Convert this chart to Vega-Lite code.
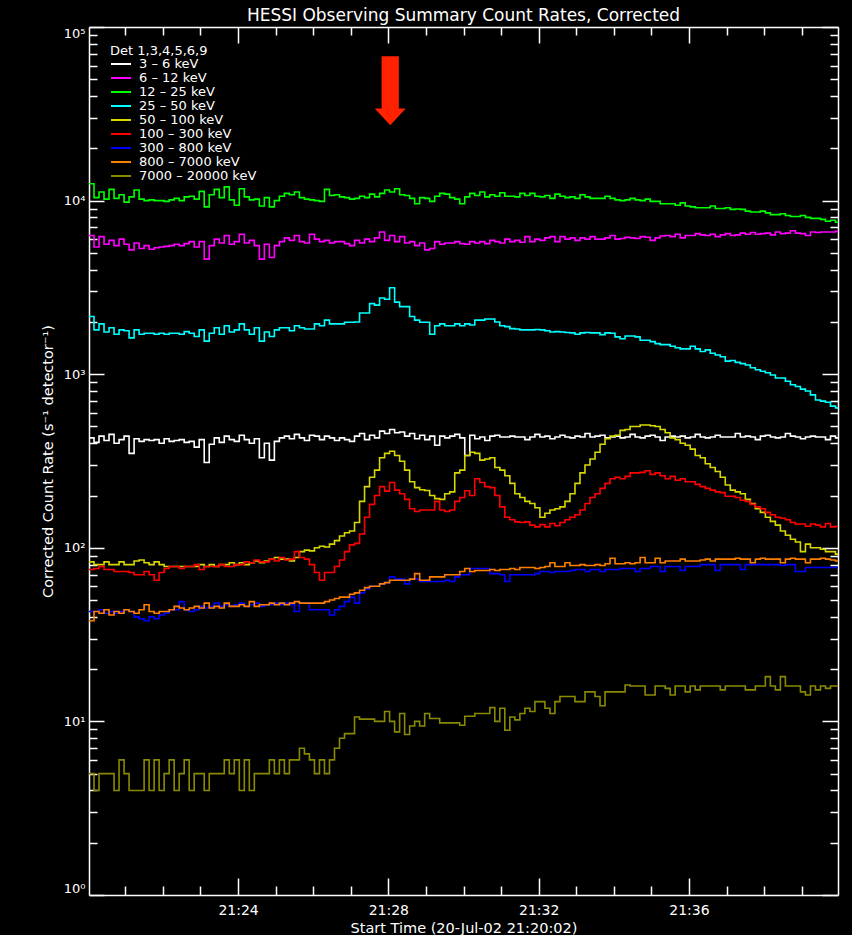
{
  "$schema": "https://vega.github.io/schema/vega-lite/v6.json",
  "width": 749,
  "height": 868,
  "autosize": {"type": "none"},
  "padding": {"left": 89, "top": 27, "right": 14, "bottom": 40},
  "background": "#000000",
  "title": {
    "text": "HESSI Observing Summary Count Rates, Corrected",
    "color": "#FFFFFF",
    "font": "DejaVu Sans",
    "fontSize": 17,
    "fontWeight": "normal",
    "anchor": "middle",
    "frame": "group",
    "baseline": "alphabetic",
    "offset": -12
  },
  "config": {
    "view": {"stroke": null},
    "axis": {
      "grid": false,
      "domainColor": "#FFFFFF",
      "domainWidth": 1.5,
      "tickColor": "#FFFFFF",
      "tickWidth": 1.5,
      "labelColor": "#FFFFFF",
      "titleColor": "#FFFFFF",
      "labelFont": "DejaVu Sans",
      "titleFont": "DejaVu Sans",
      "labelFontSize": 13,
      "titleFontSize": 14.5,
      "titleFontWeight": "normal"
    }
  },
  "datasets": {
    "bands": [
      {"k": "a", "band": "3 – 6 keV"},
      {"k": "b", "band": "6 – 12 keV"},
      {"k": "c", "band": "12 – 25 keV"},
      {"k": "d", "band": "25 – 50 keV"},
      {"k": "e", "band": "50 – 100 keV"},
      {"k": "f", "band": "100 – 300 keV"},
      {"k": "g", "band": "300 – 800 keV"},
      {"k": "h", "band": "800 – 7000 keV"},
      {"k": "i", "band": "7000 – 20000 keV"}
    ],
    "marker": [{"s": 483, "v": 43000}],
    "rates": [
      {"s":2,"a":430,"b":6300,"c":12500,"d":2150,"e":83,"f":75,"g":43,"h":38,"i":5},
      {"s":10,"a":405,"b":5400,"c":10400,"d":1800,"e":80,"f":76,"g":43,"h":43,"i":4},
      {"s":18,"a":440,"b":6200,"c":11200,"d":1950,"e":80,"f":78,"g":44,"h":42,"i":5},
      {"s":26,"a":415,"b":5600,"c":10200,"d":1750,"e":83,"f":75,"g":42,"h":44,"i":5},
      {"s":34,"a":450,"b":5900,"c":11600,"d":1850,"e":80,"f":75,"g":43,"h":41,"i":5},
      {"s":42,"a":400,"b":5500,"c":10300,"d":1700,"e":80,"f":73,"g":42,"h":43,"i":4},
      {"s":50,"a":420,"b":6000,"c":10800,"d":1800,"e":83,"f":73,"g":43,"h":42,"i":6},
      {"s":58,"a":440,"b":5600,"c":9800,"d":1780,"e":80,"f":73,"g":44,"h":44,"i":5},
      {"s":66,"a":350,"b":5200,"c":10500,"d":1620,"e":80,"f":72,"g":43,"h":43,"i":4},
      {"s":74,"a":425,"b":5700,"c":11500,"d":1800,"e":84,"f":70,"g":40,"h":42,"i":4},
      {"s":82,"a":410,"b":5300,"c":10200,"d":1700,"e":85,"f":70,"g":39,"h":44,"i":4},
      {"s":90,"a":420,"b":5500,"c":10000,"d":1720,"e":82,"f":73,"g":38,"h":47,"i":6},
      {"s":98,"a":415,"b":5250,"c":10100,"d":1720,"e":80,"f":70,"g":40,"h":43,"i":4},
      {"s":106,"a":420,"b":5350,"c":10000,"d":1700,"e":83,"f":65,"g":39,"h":42,"i":6},
      {"s":114,"a":400,"b":5400,"c":10000,"d":1720,"e":80,"f":72,"g":41,"h":43,"i":4},
      {"s":122,"a":425,"b":5450,"c":9900,"d":1700,"e":78,"f":76,"g":42,"h":43,"i":5},
      {"s":130,"a":410,"b":5500,"c":10100,"d":1720,"e":78,"f":78,"g":44,"h":44,"i":6},
      {"s":138,"a":415,"b":5600,"c":10300,"d":1720,"e":78,"f":78,"g":44,"h":46,"i":4},
      {"s":146,"a":420,"b":5500,"c":10000,"d":1700,"e":78,"f":76,"g":49,"h":45,"i":5},
      {"s":154,"a":405,"b":5650,"c":10500,"d":1760,"e":78,"f":78,"g":44,"h":44,"i":6},
      {"s":162,"a":410,"b":5800,"c":10600,"d":1720,"e":78,"f":78,"g":43,"h":45,"i":4},
      {"s":170,"a":380,"b":5400,"c":10200,"d":1650,"e":78,"f":80,"g":44,"h":46,"i":5},
      {"s":178,"a":420,"b":5800,"c":11300,"d":1800,"e":80,"f":75,"g":46,"h":45,"i":5},
      {"s":186,"a":310,"b":4600,"c":9200,"d":1550,"e":78,"f":78,"g":45,"h":48,"i":4},
      {"s":194,"a":395,"b":5500,"c":10800,"d":1720,"e":80,"f":78,"g":46,"h":45,"i":5},
      {"s":202,"a":430,"b":6000,"c":11600,"d":1850,"e":78,"f":78,"g":48,"h":46,"i":5},
      {"s":210,"a":405,"b":5700,"c":10400,"d":1700,"e":80,"f":80,"g":46,"h":45,"i":5},
      {"s":218,"a":440,"b":6300,"c":12000,"d":1900,"e":80,"f":78,"g":47,"h":48,"i":6},
      {"s":226,"a":420,"b":5600,"c":10100,"d":1750,"e":82,"f":78,"g":46,"h":46,"i":5},
      {"s":234,"a":410,"b":5800,"c":9400,"d":1800,"e":80,"f":80,"g":47,"h":46,"i":6},
      {"s":242,"a":445,"b":6400,"c":11700,"d":1950,"e":82,"f":80,"g":48,"h":47,"i":4},
      {"s":250,"a":420,"b":5700,"c":10500,"d":1800,"e":80,"f":83,"g":46,"h":46,"i":6},
      {"s":258,"a":400,"b":5900,"c":10100,"d":1700,"e":82,"f":82,"g":47,"h":49,"i":4},
      {"s":266,"a":425,"b":5500,"c":10200,"d":1850,"e":84,"f":85,"g":48,"h":46,"i":5},
      {"s":274,"a":330,"b":4600,"c":9300,"d":1550,"e":82,"f":83,"g":46,"h":47,"i":5},
      {"s":282,"a":400,"b":5600,"c":10400,"d":1750,"e":84,"f":83,"g":47,"h":47,"i":5},
      {"s":290,"a":320,"b":4700,"c":9200,"d":1650,"e":86,"f":86,"g":47,"h":48,"i":6},
      {"s":298,"a":410,"b":5500,"c":10000,"d":1800,"e":88,"f":84,"g":48,"h":47,"i":5},
      {"s":306,"a":430,"b":5800,"c":10600,"d":1850,"e":86,"f":88,"g":47,"h":48,"i":6},
      {"s":314,"a":440,"b":6100,"c":11000,"d":1850,"e":86,"f":85,"g":48,"h":47,"i":5},
      {"s":322,"a":425,"b":5900,"c":10800,"d":1780,"e":84,"f":86,"g":47,"h":48,"i":6},
      {"s":330,"a":450,"b":6300,"c":11200,"d":1900,"e":88,"f":95,"g":43,"h":49,"i":6},
      {"s":338,"a":430,"b":5800,"c":10400,"d":1850,"e":95,"f":88,"g":48,"h":48,"i":7},
      {"s":346,"a":415,"b":5700,"c":10200,"d":1820,"e":97,"f":86,"g":48,"h":48,"i":6.5},
      {"s":354,"a":445,"b":6400,"c":10100,"d":1820,"e":96,"f":80,"g":44,"h":48,"i":6},
      {"s":362,"a":440,"b":6000,"c":10000,"d":1950,"e":100,"f":72,"g":44,"h":48,"i":5},
      {"s":370,"a":420,"b":5800,"c":9900,"d":1900,"e":102,"f":65,"g":44,"h":48,"i":6},
      {"s":378,"a":440,"b":5900,"c":11600,"d":2050,"e":101,"f":72,"g":44,"h":49,"i":5},
      {"s":386,"a":430,"b":5700,"c":10700,"d":1950,"e":105,"f":72,"g":41,"h":50,"i":6},
      {"s":394,"a":415,"b":5800,"c":10800,"d":1950,"e":110,"f":78,"g":44,"h":51,"i":7},
      {"s":402,"a":430,"b":5800,"c":10500,"d":1950,"e":117,"f":85,"g":46,"h":52,"i":8},
      {"s":410,"a":420,"b":5650,"c":10400,"d":1990,"e":122,"f":95,"g":49,"h":52,"i":8.5},
      {"s":418,"a":410,"b":5500,"c":10200,"d":1990,"e":125,"f":104,"g":52,"h":54,"i":8.5},
      {"s":426,"a":440,"b":5900,"c":10300,"d":2000,"e":140,"f":106,"g":48,"h":55,"i":10.6},
      {"s":434,"a":455,"b":5700,"c":10600,"d":2250,"e":185,"f":120,"g":55,"h":57,"i":10.3},
      {"s":442,"a":420,"b":6000,"c":10400,"d":2250,"e":225,"f":150,"g":58,"h":59,"i":10.3},
      {"s":450,"a":445,"b":5800,"c":10900,"d":2550,"e":255,"f":178,"g":60,"h":60,"i":10.3},
      {"s":458,"a":430,"b":6100,"c":10500,"d":2500,"e":280,"f":200,"g":60,"h":60,"i":10},
      {"s":466,"a":470,"b":6600,"c":11000,"d":2750,"e":330,"f":225,"g":62,"h":62,"i":10},
      {"s":474,"a":455,"b":5900,"c":11500,"d":2700,"e":350,"f":212,"g":63,"h":63,"i":11.4},
      {"s":482,"a":480,"b":6300,"c":11200,"d":3150,"e":360,"f":238,"g":68,"h":65,"i":10},
      {"s":490,"a":460,"b":5800,"c":11700,"d":2600,"e":340,"f":215,"g":66,"h":65,"i":8.7},
      {"s":498,"a":465,"b":6200,"c":10800,"d":2450,"e":315,"f":205,"g":66,"h":65,"i":11.1},
      {"s":506,"a":440,"b":5700,"c":10700,"d":2450,"e":280,"f":190,"g":62,"h":65,"i":8.4},
      {"s":514,"a":455,"b":5800,"c":10300,"d":2150,"e":240,"f":168,"g":66,"h":66,"i":9.4},
      {"s":522,"a":425,"b":5500,"c":9600,"d":2050,"e":222,"f":162,"g":66,"h":71,"i":10},
      {"s":530,"a":445,"b":5700,"c":10400,"d":1990,"e":216,"f":165,"g":64,"h":65,"i":9.4},
      {"s":538,"a":420,"b":5200,"c":10300,"d":1990,"e":214,"f":165,"g":64,"h":65,"i":11.1},
      {"s":546,"a":440,"b":5300,"c":9900,"d":1700,"e":200,"f":165,"g":64,"h":68,"i":10.4},
      {"s":554,"a":390,"b":5800,"c":10600,"d":1900,"e":192,"f":185,"g":64,"h":68,"i":10.4},
      {"s":562,"a":440,"b":5600,"c":11000,"d":1950,"e":190,"f":165,"g":64,"h":68,"i":9.8},
      {"s":570,"a":430,"b":5700,"c":10900,"d":1900,"e":205,"f":162,"g":65,"h":70,"i":9.8},
      {"s":578,"a":440,"b":5700,"c":10400,"d":1900,"e":210,"f":165,"g":64,"h":70,"i":9.8},
      {"s":586,"a":450,"b":5800,"c":10200,"d":1950,"e":270,"f":185,"g":68,"h":70,"i":9.8},
      {"s":594,"a":430,"b":5650,"c":9600,"d":1900,"e":280,"f":195,"g":70,"h":73,"i":9.5},
      {"s":602,"a":340,"b":5600,"c":10500,"d":1950,"e":340,"f":213,"g":70,"h":76,"i":10.7},
      {"s":610,"a":445,"b":5800,"c":11000,"d":1920,"e":355,"f":200,"g":76,"h":73,"i":10.7},
      {"s":618,"a":425,"b":5700,"c":10700,"d":2050,"e":350,"f":250,"g":76,"h":74,"i":11.1},
      {"s":626,"a":435,"b":5800,"c":11200,"d":2050,"e":320,"f":238,"g":76,"h":74,"i":11.1},
      {"s":634,"a":415,"b":5650,"c":10500,"d":2080,"e":325,"f":225,"g":76,"h":74,"i":11.1},
      {"s":642,"a":440,"b":5900,"c":10800,"d":2080,"e":330,"f":222,"g":71,"h":75,"i":12},
      {"s":650,"a":445,"b":5800,"c":10600,"d":2000,"e":290,"f":200,"g":71,"h":74,"i":10},
      {"s":658,"a":435,"b":5700,"c":11100,"d":1900,"e":280,"f":172,"g":70,"h":75,"i":11.9},
      {"s":666,"a":435,"b":6000,"c":10600,"d":1880,"e":260,"f":150,"g":64,"h":75,"i":8.9},
      {"s":674,"a":440,"b":5800,"c":10600,"d":1830,"e":235,"f":145,"g":70,"h":76,"i":10.6},
      {"s":682,"a":435,"b":5900,"c":10500,"d":1820,"e":205,"f":141,"g":70,"h":75,"i":10.2},
      {"s":690,"a":435,"b":5750,"c":11000,"d":1800,"e":195,"f":140,"g":70,"h":77,"i":11.1},
      {"s":698,"a":420,"b":6200,"c":10700,"d":1800,"e":185,"f":141,"g":70,"h":77,"i":11.9},
      {"s":706,"a":435,"b":5800,"c":11000,"d":1800,"e":180,"f":135,"g":70,"h":77,"i":11.4},
      {"s":714,"a":450,"b":6000,"c":10600,"d":1810,"e":170,"f":132,"g":71,"h":76,"i":13},
      {"s":722,"a":435,"b":5900,"c":10500,"d":1800,"e":150,"f":136,"g":73,"h":77,"i":13},
      {"s":730,"a":440,"b":6100,"c":10700,"d":1780,"e":158,"f":132,"g":73,"h":78,"i":11.9},
      {"s":738,"a":425,"b":6200,"c":10300,"d":1750,"e":165,"f":138,"g":72,"h":82,"i":11.1},
      {"s":746,"a":435,"b":5800,"c":10900,"d":1760,"e":168,"f":134,"g":73,"h":78,"i":13},
      {"s":754,"a":445,"b":6200,"c":10600,"d":1750,"e":172,"f":140,"g":73,"h":78,"i":13.9},
      {"s":762,"a":435,"b":6000,"c":10400,"d":1740,"e":185,"f":145,"g":73,"h":82,"i":13.9},
      {"s":770,"a":430,"b":6100,"c":10500,"d":1730,"e":205,"f":150,"g":74,"h":79,"i":13.9},
      {"s":778,"a":440,"b":5900,"c":10300,"d":1700,"e":235,"f":155,"g":75,"h":79,"i":13},
      {"s":786,"a":435,"b":6100,"c":10800,"d":1730,"e":270,"f":165,"g":75,"h":80,"i":13},
      {"s":794,"a":455,"b":6000,"c":10500,"d":1740,"e":300,"f":180,"g":73,"h":79,"i":14.8},
      {"s":802,"a":435,"b":6200,"c":10300,"d":1730,"e":325,"f":195,"g":75,"h":79,"i":14.8},
      {"s":810,"a":440,"b":6000,"c":10300,"d":1730,"e":355,"f":205,"g":75,"h":80,"i":13.9},
      {"s":818,"a":445,"b":6000,"c":10300,"d":1690,"e":395,"f":220,"g":73,"h":79,"i":12.3},
      {"s":826,"a":430,"b":6100,"c":10600,"d":1730,"e":425,"f":235,"g":75,"h":81,"i":14.8},
      {"s":834,"a":435,"b":6300,"c":10300,"d":1720,"e":440,"f":250,"g":75,"h":87,"i":14.8},
      {"s":842,"a":440,"b":6000,"c":10100,"d":1640,"e":445,"f":255,"g":75,"h":81,"i":14.8},
      {"s":850,"a":430,"b":6050,"c":10000,"d":1600,"e":475,"f":250,"g":76,"h":81,"i":14.8},
      {"s":858,"a":435,"b":6150,"c":10100,"d":1660,"e":480,"f":258,"g":76,"h":82,"i":16.2},
      {"s":866,"a":450,"b":6100,"c":10300,"d":1660,"e":500,"f":270,"g":76,"h":81,"i":16},
      {"s":874,"a":435,"b":6050,"c":10100,"d":1640,"e":500,"f":270,"g":73,"h":82,"i":16},
      {"s":882,"a":430,"b":6200,"c":10000,"d":1570,"e":510,"f":272,"g":76,"h":88,"i":16},
      {"s":890,"a":440,"b":6150,"c":10200,"d":1570,"e":510,"f":278,"g":76,"h":82,"i":14.2},
      {"s":898,"a":445,"b":5900,"c":9900,"d":1540,"e":505,"f":265,"g":78,"h":82,"i":14.2},
      {"s":906,"a":435,"b":6100,"c":9900,"d":1500,"e":500,"f":270,"g":78,"h":87,"i":16},
      {"s":914,"a":415,"b":6250,"c":9600,"d":1480,"e":480,"f":260,"g":73,"h":82,"i":16},
      {"s":922,"a":435,"b":6300,"c":9600,"d":1480,"e":460,"f":250,"g":78,"h":84,"i":15.5},
      {"s":930,"a":440,"b":6200,"c":9600,"d":1450,"e":430,"f":258,"g":78,"h":84,"i":14.2},
      {"s":938,"a":435,"b":6400,"c":9400,"d":1420,"e":420,"f":245,"g":78,"h":84,"i":16},
      {"s":946,"a":440,"b":6100,"c":9700,"d":1400,"e":400,"f":250,"g":74,"h":86,"i":16},
      {"s":954,"a":430,"b":6300,"c":9300,"d":1400,"e":390,"f":240,"g":78,"h":84,"i":14.8},
      {"s":962,"a":435,"b":6300,"c":9200,"d":1450,"e":370,"f":240,"g":78,"h":84,"i":16},
      {"s":970,"a":450,"b":6450,"c":9100,"d":1400,"e":340,"f":232,"g":78,"h":84,"i":15.2},
      {"s":978,"a":435,"b":6350,"c":9100,"d":1350,"e":330,"f":225,"g":80,"h":85,"i":16},
      {"s":986,"a":430,"b":6300,"c":9100,"d":1380,"e":305,"f":220,"g":80,"h":86,"i":16},
      {"s":994,"a":435,"b":6400,"c":9300,"d":1320,"e":290,"f":215,"g":80,"h":84,"i":16},
      {"s":1002,"a":445,"b":6200,"c":9000,"d":1290,"e":275,"f":210,"g":74,"h":86,"i":16},
      {"s":1010,"a":435,"b":6350,"c":9000,"d":1260,"e":255,"f":208,"g":80,"h":86,"i":15.2},
      {"s":1018,"a":435,"b":6450,"c":9100,"d":1190,"e":230,"f":198,"g":80,"h":86,"i":16},
      {"s":1026,"a":435,"b":6300,"c":8900,"d":1200,"e":215,"f":198,"g":80,"h":86,"i":16},
      {"s":1034,"a":455,"b":6350,"c":8950,"d":1170,"e":210,"f":195,"g":80,"h":87,"i":16},
      {"s":1042,"a":435,"b":6500,"c":8900,"d":1150,"e":205,"f":188,"g":75,"h":86,"i":16},
      {"s":1050,"a":440,"b":6400,"c":8700,"d":1130,"e":190,"f":185,"g":80,"h":86,"i":15.2},
      {"s":1058,"a":435,"b":6550,"c":8600,"d":1090,"e":180,"f":178,"g":80,"h":82,"i":15.2},
      {"s":1066,"a":420,"b":6400,"c":8600,"d":1060,"e":168,"f":172,"g":80,"h":86,"i":16},
      {"s":1074,"a":440,"b":6450,"c":8700,"d":1040,"e":160,"f":168,"g":80,"h":87,"i":16},
      {"s":1082,"a":445,"b":6500,"c":8500,"d":1020,"e":150,"f":160,"g":80,"h":86,"i":18.1},
      {"s":1090,"a":435,"b":6350,"c":8300,"d":990,"e":142,"f":155,"g":80,"h":86,"i":16},
      {"s":1098,"a":430,"b":6600,"c":8300,"d":950,"e":135,"f":150,"g":80,"h":86,"i":15.2},
      {"s":1106,"a":435,"b":6450,"c":8400,"d":950,"e":125,"f":148,"g":79,"h":82,"i":18.1},
      {"s":1114,"a":455,"b":6500,"c":8200,"d":910,"e":118,"f":145,"g":80,"h":86,"i":16},
      {"s":1122,"a":440,"b":6700,"c":8100,"d":870,"e":112,"f":140,"g":80,"h":87,"i":16},
      {"s":1130,"a":435,"b":6500,"c":8100,"d":850,"e":108,"f":137,"g":73,"h":86,"i":16},
      {"s":1138,"a":425,"b":6450,"c":8200,"d":820,"e":95,"f":137,"g":73,"h":86,"i":14.8},
      {"s":1146,"a":435,"b":6300,"c":8000,"d":800,"e":105,"f":133,"g":77,"h":82,"i":14.2},
      {"s":1154,"a":440,"b":6600,"c":7900,"d":760,"e":100,"f":137,"g":77,"h":86,"i":16},
      {"s":1162,"a":435,"b":6550,"c":7900,"d":710,"e":100,"f":135,"g":77,"h":86,"i":15.2},
      {"s":1170,"a":435,"b":6600,"c":7800,"d":700,"e":98,"f":132,"g":77,"h":87,"i":16},
      {"s":1178,"a":420,"b":6600,"c":7600,"d":690,"e":95,"f":138,"g":77,"h":86,"i":15.5},
      {"s":1186,"a":440,"b":6600,"c":7700,"d":655,"e":95,"f":132,"g":77,"h":85,"i":16},
      {"s":1194,"a":430,"b":6650,"c":7500,"d":640,"e":92,"f":133,"g":77,"h":84,"i":16},
      {"s":1198,"a":430,"b":6650,"c":7500,"d":640,"e":92,"f":133,"g":77,"h":84,"i":16}
    ]
  },
  "resolve": {"axis": {"x": "independent", "y": "independent"}},
  "layer": [
    {
      "data": {"name": "rates"},
      "transform": [
        {"fold": ["a", "b", "c", "d", "e", "f", "g", "h", "i"], "as": ["k", "v"]},
        {"lookup": "k", "from": {"data": {"name": "bands"}, "key": "k", "fields": ["band"]}}
      ],
      "mark": {"type": "line", "interpolate": "step-after", "strokeWidth": 1.6, "clip": true},
      "encoding": {
        "x": {
          "field": "s",
          "type": "quantitative",
          "scale": {"domain": [2, 1198], "nice": false, "zero": false},
          "axis": {
            "orient": "bottom",
            "values": [240, 480, 720, 960],
            "labelExpr": "'21:' + (20 + datum.value / 60)",
            "ticks": false,
            "domain": true,
            "labelFontSize": 14,
            "labelPadding": 8,
            "labelFlush": false,
            "title": "Start Time (20-Jul-02 21:20:02)",
            "titlePadding": 4
          }
        },
        "y": {
          "field": "v",
          "type": "quantitative",
          "scale": {"type": "log", "domain": [1, 100000], "nice": false},
          "axis": {
            "orient": "left",
            "values": [1, 10, 100, 1000, 10000, 100000],
            "labelExpr": "'10' + ['⁰', '¹', '²', '³', '⁴', '⁵'][round(log(datum.value) / LN10)]",
            "ticks": false,
            "domain": true,
            "labelPadding": 4,
            "labelFlush": true,
            "labelOverlap": false,
            "title": "Corrected Count Rate (s⁻¹ detector⁻¹)",
            "titlePadding": 8
          }
        },
        "color": {
          "field": "band",
          "type": "nominal",
          "scale": {
            "domain": ["3 – 6 keV", "6 – 12 keV", "12 – 25 keV", "25 – 50 keV", "50 – 100 keV", "100 – 300 keV", "300 – 800 keV", "800 – 7000 keV", "7000 – 20000 keV"],
            "range": ["#FFFFFF", "#FF00FF", "#00FF00", "#00FFFF", "#D8D800", "#FF0000", "#0000FF", "#FF8000", "#8A8A00"]
          },
          "legend": {
            "orient": "none",
            "legendX": 21,
            "legendY": 17.5,
            "padding": 0,
            "title": "Det 1,3,4,5,6,9",
            "titleColor": "#FFFFFF",
            "titleFont": "DejaVu Sans",
            "titleFontSize": 13,
            "titleFontWeight": "normal",
            "titlePadding": 0,
            "labelColor": "#FFFFFF",
            "labelFont": "DejaVu Sans",
            "labelFontSize": 13,
            "labelOffset": 7,
            "symbolType": "stroke",
            "symbolSize": 400,
            "symbolStrokeWidth": 2,
            "clipHeight": 13,
            "rowPadding": -1.5
          }
        }
      }
    },
    {
      "data": {"name": "marker"},
      "mark": {
        "type": "point",
        "shape": "M-0.25,-1L0.25,-1L0.25,0.52L0.45,0.52L0,1L-0.45,0.52L-0.25,0.52Z",
        "filled": true,
        "fill": "#FF2200",
        "strokeWidth": 0,
        "opacity": 1,
        "size": 4761
      },
      "encoding": {
        "x": {
          "field": "s",
          "type": "quantitative",
          "scale": {"domain": [2, 1198], "nice": false, "zero": false},
          "axis": {"orient": "bottom", "values": [240, 480, 720, 960], "labels": false, "domain": false, "tickSize": -17, "title": null}
        },
        "y": {
          "field": "v",
          "type": "quantitative",
          "scale": {"type": "log", "domain": [1, 100000], "nice": false},
          "axis": {"orient": "left", "values": [1, 10, 100, 1000, 10000, 100000], "labels": false, "domain": false, "tickSize": -15, "title": null}
        }
      }
    },
    {
      "data": {"name": "marker"},
      "mark": {"type": "point", "opacity": 0},
      "encoding": {
        "x": {
          "field": "s",
          "type": "quantitative",
          "scale": {"domain": [2, 1198], "nice": false, "zero": false},
          "axis": {"orient": "bottom", "values": [60, 120, 180, 300, 360, 420, 540, 600, 660, 780, 840, 900, 1020, 1080, 1140], "labels": false, "domain": false, "tickSize": -9, "title": null}
        },
        "y": {
          "field": "v",
          "type": "quantitative",
          "scale": {"type": "log", "domain": [1, 100000], "nice": false},
          "axis": {"orient": "left", "values": [2, 3, 4, 5, 6, 7, 8, 9, 20, 30, 40, 50, 60, 70, 80, 90, 200, 300, 400, 500, 600, 700, 800, 900, 2000, 3000, 4000, 5000, 6000, 7000, 8000, 9000, 20000, 30000, 40000, 50000, 60000, 70000, 80000, 90000], "labels": false, "domain": false, "tickSize": -8, "title": null}
        }
      }
    },
    {
      "data": {"name": "marker"},
      "mark": {"type": "point", "opacity": 0},
      "encoding": {
        "x": {
          "field": "s",
          "type": "quantitative",
          "scale": {"domain": [2, 1198], "nice": false, "zero": false},
          "axis": {"orient": "top", "values": [240, 480, 720, 960], "labels": false, "domain": true, "tickSize": -16, "title": null}
        },
        "y": {
          "field": "v",
          "type": "quantitative",
          "scale": {"type": "log", "domain": [1, 100000], "nice": false},
          "axis": {"orient": "right", "values": [1, 10, 100, 1000, 10000, 100000], "labels": false, "domain": true, "tickSize": -16, "title": null}
        }
      }
    },
    {
      "data": {"name": "marker"},
      "mark": {"type": "point", "opacity": 0},
      "encoding": {
        "x": {
          "field": "s",
          "type": "quantitative",
          "scale": {"domain": [2, 1198], "nice": false, "zero": false},
          "axis": {"orient": "top", "values": [60, 120, 180, 300, 360, 420, 540, 600, 660, 780, 840, 900, 1020, 1080, 1140], "labels": false, "domain": false, "tickSize": -8, "title": null}
        },
        "y": {
          "field": "v",
          "type": "quantitative",
          "scale": {"type": "log", "domain": [1, 100000], "nice": false},
          "axis": {"orient": "right", "values": [2, 3, 4, 5, 6, 7, 8, 9, 20, 30, 40, 50, 60, 70, 80, 90, 200, 300, 400, 500, 600, 700, 800, 900, 2000, 3000, 4000, 5000, 6000, 7000, 8000, 9000, 20000, 30000, 40000, 50000, 60000, 70000, 80000, 90000], "labels": false, "domain": false, "tickSize": -8, "title": null}
        }
      }
    }
  ]
}
